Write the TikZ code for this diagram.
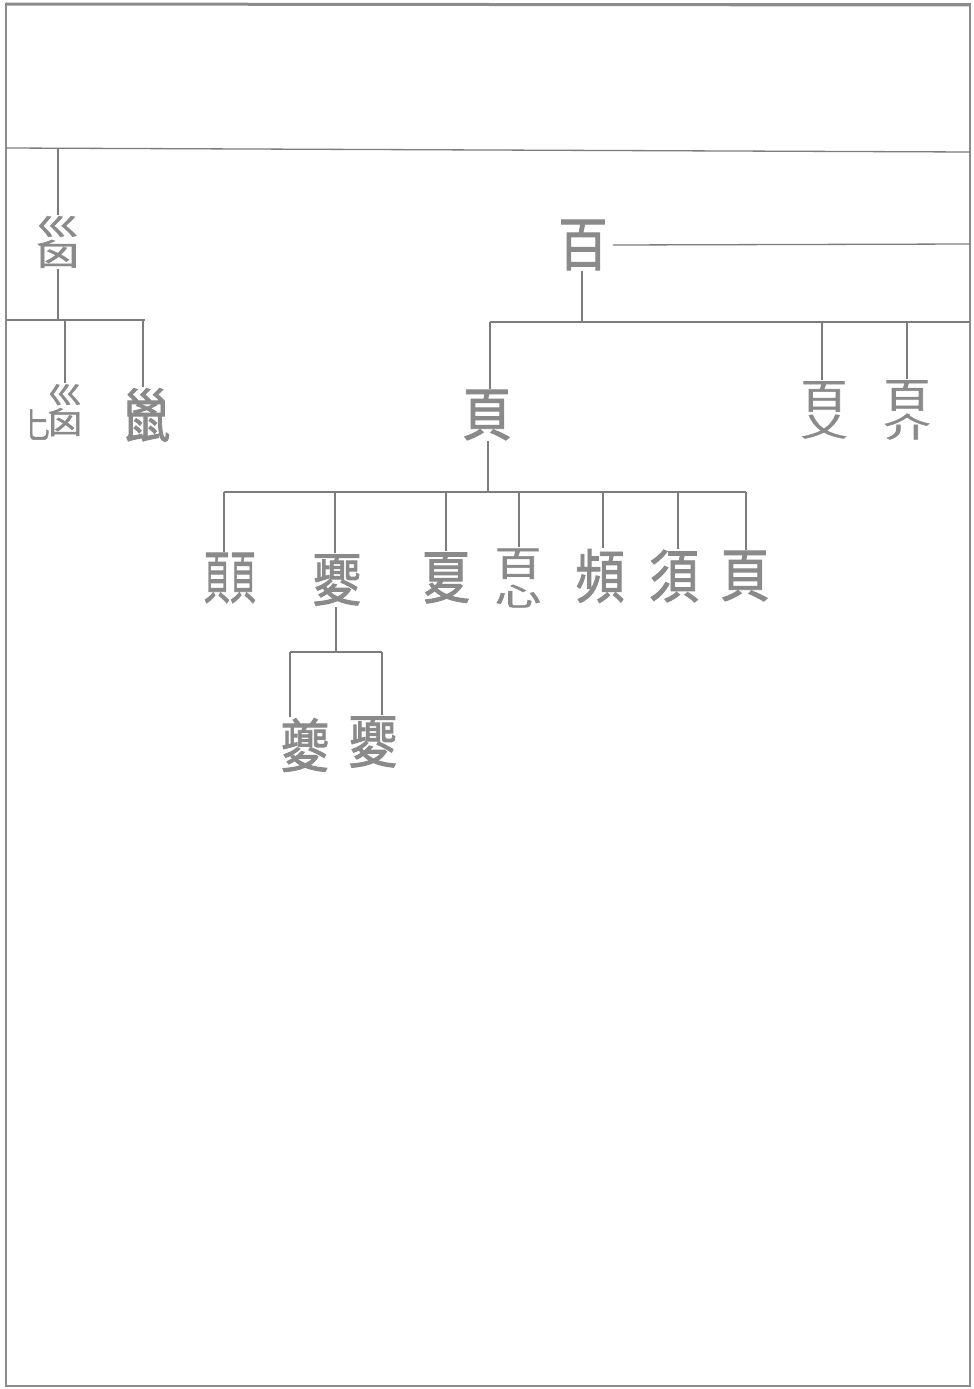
\documentclass[tikz,border=0pt]{standalone}
\usepackage{fontspec}
\usepackage{graphicx}
\newfontfamily\cjk[FakeBold=1.6]{Noto Sans CJK TC}
\definecolor{chgray}{HTML}{8A8A8A}
\definecolor{lngray}{HTML}{7C7C7C}
\definecolor{frgray}{HTML}{8C8C8C}
\newcommand\nx[1]{\scalebox{0.85}[1]{#1}}
\newcommand\vstk[5][3pt]{\vbox{\offinterlineskip\halign{\hfil##\hfil\cr\scalebox{1}[#4]{#2}\cr\noalign{\kern#1}\scalebox{1}[#5]{#3}\cr}}}
\begin{document}
\begin{tikzpicture}[x=1pt,y=-1pt]
\tikzset{
  ch/.style={text=chgray, font=\cjk\fontsize{58}{58}\selectfont, inner sep=1pt},
  ln/.style={draw=lngray, line width=1.3pt},
  frame/.style={draw=frgray, line width=2pt}
}
\useasboundingbox (0,0) rectangle (974,1389);
\fill[white] (0,0) rectangle (974,1389);
% frame
\draw[frame] (6,4) rectangle (970,1386);
\draw[draw=frgray, line width=3pt] (6,4) -- (970,5);

% main horizontal line
\coordinate (m0) at (6,148);
\coordinate (m1) at (970,152);
\draw[ln] (m0) -- (m1);

% left group
\node[ch] (A) at (58,242) {\scalebox{0.75}[1]{\vstk{巛}{囟}{0.42}{0.52}}};
\coordinate (a0) at (58,149);
\draw[ln] (a0) -- (A.north);
\coordinate (a1) at (58,320);
\draw[ln] (A.south) -- (a1);
\coordinate (lb0) at (6,320);
\coordinate (lb1) at (145,320);
\draw[ln] (lb0) -- (lb1);
\node[ch] (B) at (54,412) {\raisebox{-4pt}{\scalebox{0.42}[0.6]{匕}}\kern-2pt\scalebox{0.6}[1]{\vstk{巛}{囟}{0.42}{0.52}}};
\node[ch] (C) at (146,415) {\nx{巤}};
\coordinate (b0) at (65,320);
\coordinate (c0) at (143,320);
\draw[ln] (b0) -- (b0 |- B.north);
\draw[ln] (c0) -- (c0 |- C.north);

% head 百
\node[ch] (D) at (583,245) {\nx{百}};
\coordinate (d1) at (970,244);
\draw[ln] (D.east) ++(4,0) coordinate (de) (de) -- (d1);
\coordinate (d2) at (582,322);
\draw[ln] (d2 |- D.south) -- (d2);
\coordinate (rb0) at (490,322);
\coordinate (rb1) at (970,322);
\draw[ln] (rb0) -- (rb1);

\node[ch] (E) at (487,415) {\nx{頁}};
\node[ch] (F) at (824,410) {\scalebox{0.8}[1]{\vstk{百}{乂}{0.6}{0.48}}};
\node[ch] (G) at (907,410) {\scalebox{0.8}[1]{\vstk{百}{介}{0.6}{0.48}}};
\coordinate (f0) at (822,322);
\coordinate (g0) at (907,322);
\draw[ln] (rb0) -- (rb0 |- E.north);
\draw[ln] (f0) -- (f0 |- F.north);
\draw[ln] (g0) -- (g0 |- G.north);

% under 頁
\coordinate (e1) at (488,492);
\draw[ln] (e1 |- E.south) -- (e1);
\coordinate (hb0) at (224,492);
\coordinate (hb1) at (746,492);
\draw[ln] (hb0) -- (hb1);

\node[ch] (H1) at (230,578) {\hbox{\scalebox{0.45}[1]{頁}\scalebox{0.45}[1]{頁}}};
\node[ch] (H2) at (337,580) {\nx{夒}};
\node[ch] (H3) at (446,578) {\nx{夏}};
\node[ch] (H4) at (518,578) {\scalebox{0.8}[1]{\vstk[6pt]{百}{心}{0.6}{0.45}}};
\node[ch] (H5) at (600,576) {\nx{頻}};
\node[ch] (H6) at (674,576) {\nx{須}};
\node[ch] (H7) at (745,576) {\nx{頁}};

\coordinate (h1) at (224,492);
\coordinate (h2) at (335,492);
\coordinate (h3) at (446,492);
\coordinate (h4) at (519,492);
\coordinate (h5) at (603,492);
\coordinate (h6) at (678,492);
\coordinate (h7) at (746,492);
\draw[ln] (h1) -- (h1 |- H1.north);
\draw[ln] (h2) -- (h2 |- H2.north);
\draw[ln] (h3) -- (h3 |- H3.north);
\draw[ln] (h4) -- (h4 |- H4.north);
\draw[ln] (h5) -- (h5 |- H5.north);
\draw[ln] (h6) -- (h6 |- H6.north);
\draw[ln] (h7) -- (h7 |- H7.north);

% under 夒
\coordinate (k0) at (336,652);
\draw[ln] (k0 |- H2.south) -- (k0);
\coordinate (kb0) at (290,652);
\coordinate (kb1) at (382,652);
\draw[ln] (kb0) -- (kb1);
\node[ch] (I1) at (305,745) {\nx{夔}};
\node[ch] (I2) at (373,742) {\nx{夒}};
\draw[ln] (kb0) -- (kb0 |- I1.north);
\draw[ln] (kb1) -- (kb1 |- I2.north);
\end{tikzpicture}
\end{document}
